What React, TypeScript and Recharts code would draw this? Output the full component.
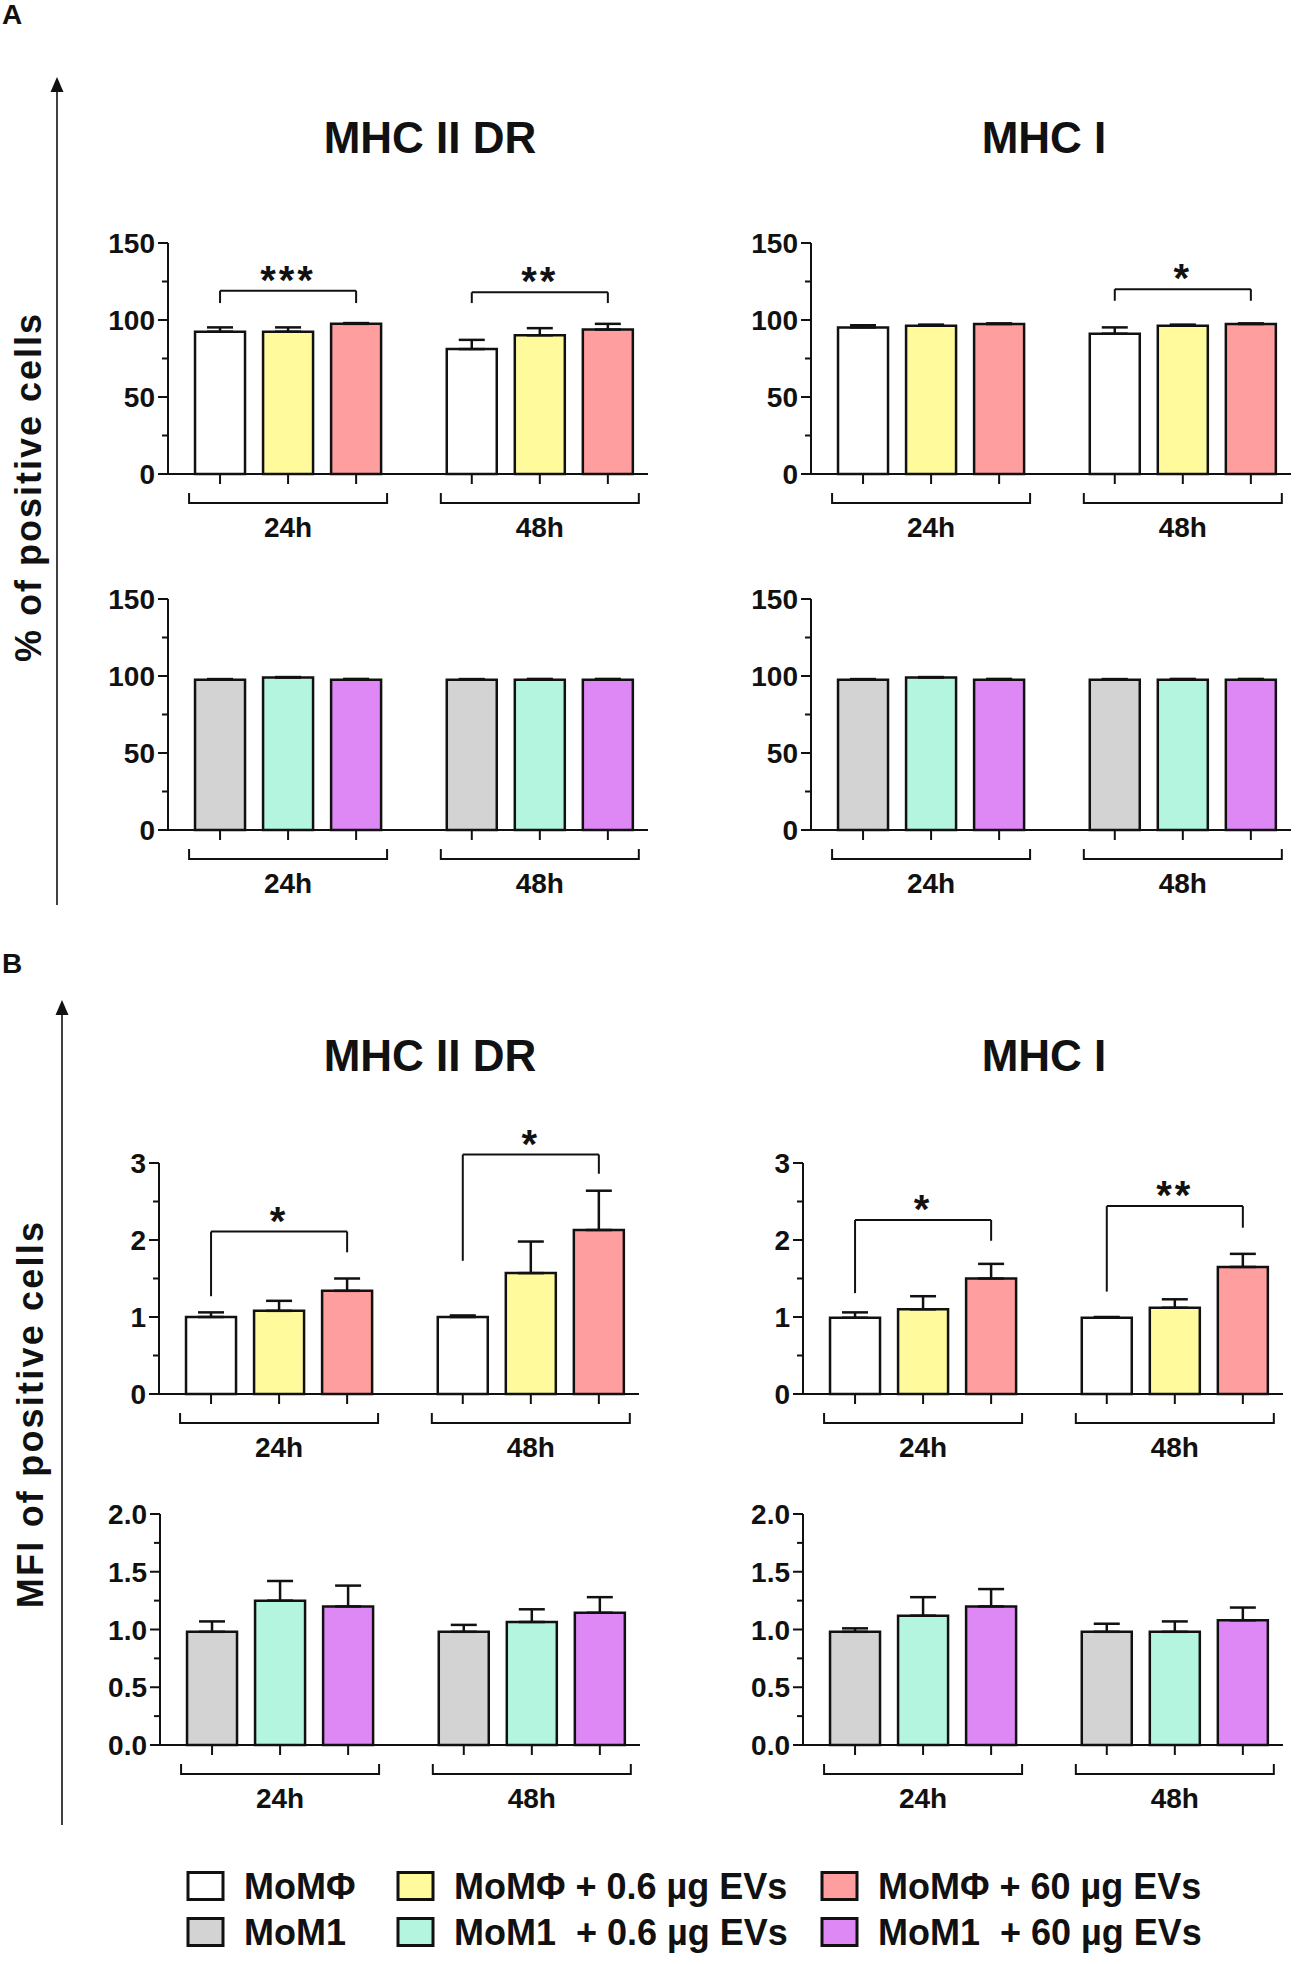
import React from 'react';
import { BarChart, Bar, XAxis, YAxis, ErrorBar, Cell, ReferenceLine, ReferenceDot } from 'recharts';

// conditions, 24h first then 48h
const timePoints = ['24h', '48h'];
const mphLegend = ['MoMΦ', 'MoMΦ + 0.6 µg EVs', 'MoMΦ + 60 µg EVs'];
const m1Legend = ['MoM1', 'MoM1  + 0.6 µg EVs', 'MoM1  + 60 µg EVs'];
const mphColors = ['#ffffff', '#fffb9c', '#ff9e9e'];
const m1Colors = ['#d3d3d3', '#b3f5de', '#dd88f5'];

const pctTicks = [0, 25, 50, 75, 100, 125, 150];
const pctLabels = [0, 50, 100, 150];
const mfiTopTicks = [0, 0.5, 1, 1.5, 2, 2.5, 3];
const mfiTopLabels = [0, 1, 2, 3];
const mfiBottomTicks = [0, 0.25, 0.5, 0.75, 1, 1.25, 1.5, 1.75, 2];
const mfiBottomLabels = [0, 0.5, 1, 1.5, 2];

// A: % of positive cells
const pctDrMph = [92.4, 92.4, 97.5, 81.1, 90.1, 93.8];
const pctDrMphErr = [2.8, 2.8, 0.5, 6.0, 4.6, 3.7];
const pctIMph = [95.2, 96.3, 97.4, 91.1, 96.3, 97.4];
const pctIMphErr = [1.4, 0.7, 0.4, 4.1, 0.7, 0.4];
const pctDrM1 = [97.6, 99.0, 97.6, 97.6, 97.6, 97.6];
const pctDrM1Err = [0.4, 0.3, 0.5, 0.4, 0.5, 0.5];
const pctIM1 = [97.6, 99.0, 97.6, 97.6, 97.6, 97.6];
const pctIM1Err = [0.4, 0.3, 0.5, 0.4, 0.5, 0.5];

// B: MFI of positive cells
const mfiDrMph = [1.0, 1.08, 1.34, 1.0, 1.57, 2.13];
const mfiDrMphErr = [0.06, 0.13, 0.16, 0.02, 0.41, 0.51];
const mfiIMph = [0.99, 1.1, 1.5, 0.99, 1.12, 1.65];
const mfiIMphErr = [0.07, 0.17, 0.19, 0.01, 0.11, 0.17];
const mfiDrM1 = [0.98, 1.25, 1.2, 0.98, 1.065, 1.145];
const mfiDrM1Err = [0.09, 0.17, 0.18, 0.06, 0.11, 0.135];
const mfiIM1 = [0.98, 1.12, 1.2, 0.98, 0.98, 1.08];
const mfiIM1Err = [0.03, 0.16, 0.15, 0.07, 0.09, 0.11];

// significance brackets: bar indices, bracket height, leg ends
const sigPctDr = [
  { from: 0, to: 2, top: 119, leftLow: 111, rightLow: 111, label: '***' },
  { from: 3, to: 5, top: 118, leftLow: 111, rightLow: 111, label: '**' },
];
const sigPctI = [{ from: 3, to: 5, top: 120, leftLow: 112.5, rightLow: 112.5, label: '*' }];
const sigMfiDr = [
  { from: 0, to: 2, top: 2.11, leftLow: 1.27, rightLow: 1.84, label: '*' },
  { from: 3, to: 5, top: 3.11, leftLow: 1.73, rightLow: 2.86, label: '*' },
];
const sigMfiI = [
  { from: 0, to: 2, top: 2.26, leftLow: 1.31, rightLow: 1.99, label: '*' },
  { from: 3, to: 5, top: 2.44, leftLow: 1.33, rightLow: 2.16, label: '**' },
];

const INK = '#111';
const FONT = '"Liberation Sans", Arial, sans-serif';
const GROUP_STEP = 3.7;
const X_MIN = -0.765;
const X_MAX = 6.29;
const PLOT_W = 480;
const PLOT_H = 231;
const Y_AXIS_W = 80;
const X_AXIS_H = 80;
const M_TOP = 60;
const M_RIGHT = 10;

const posOf = (i: number) => Math.floor(i / 3) * GROUP_STEP + (i % 3);

const YTick = (props: any) => {
  const { x, y, payload, labels, fmt } = props;
  const major = labels.includes(payload.value);
  return (
    <g>
      <line x1={x - (major ? 10 : 6)} x2={x} y1={y} y2={y} stroke={INK} strokeWidth={2} />
      {major && (
        <text x={x - 13} y={y} dy={10} textAnchor="end" fontSize={28} fontWeight="bold" fontFamily={FONT} fill={INK}>
          {fmt(payload.value)}
        </text>
      )}
    </g>
  );
};

const XTick = (props: any) => {
  const { x, y, payload } = props;
  const g = payload.value > GROUP_STEP - 0.5 ? 1 : 0;
  const k = Math.round(payload.value - g * GROUP_STEP);
  return (
    <g>
      <line x1={x} x2={x} y1={y} y2={y + 10} stroke={INK} strokeWidth={2} />
      {k === 1 && (
        <>
          <path d={`M${x - 99},${y + 19} V${y + 29} H${x + 99} V${y + 19}`} fill="none" stroke={INK} strokeWidth={2} />
          <text x={x} y={y + 63} textAnchor="middle" fontSize={28} fontWeight="bold" fontFamily={FONT} fill={INK}>
            {timePoints[g]}
          </text>
        </>
      )}
    </g>
  );
};

type Sig = { from: number; to: number; top: number; leftLow: number; rightLow: number; label: string };

function Panel(props: {
  left: number;
  top: number;
  values: number[];
  errors: number[];
  colors: string[];
  domain: [number, number];
  ticks: number[];
  labels: number[];
  fmt: (v: number) => string;
  sigs?: Sig[];
}) {
  const { left, top, values, errors, colors, domain, ticks, labels, fmt, sigs = [] } = props;
  const rows = values.map((v, i) => ({ pos: posOf(i), value: v, err: [0, errors[i]], color: colors[i % 3] }));
  const lineProps = { stroke: INK, strokeWidth: 2, ifOverflow: 'visible' as const };
  return (
    <div style={{ position: 'absolute', left: left - Y_AXIS_W, top: top - M_TOP }}>
      <BarChart
        width={Y_AXIS_W + PLOT_W + M_RIGHT}
        height={M_TOP + PLOT_H + X_AXIS_H}
        data={rows}
        margin={{ top: M_TOP, right: M_RIGHT, left: 0, bottom: 0 }}
      >
        <XAxis
          dataKey="pos"
          type="number"
          domain={[X_MIN, X_MAX]}
          ticks={rows.map((r) => r.pos)}
          interval={0}
          height={X_AXIS_H}
          tickLine={false}
          tickSize={0}
          tickMargin={0}
          axisLine={{ stroke: INK, strokeWidth: 2 }}
          tick={(p: any) => <XTick {...p} />}
        />
        <YAxis
          type="number"
          domain={domain}
          ticks={ticks}
          interval={0}
          width={Y_AXIS_W}
          tickLine={false}
          tickSize={0}
          tickMargin={0}
          axisLine={{ stroke: INK, strokeWidth: 2 }}
          tick={(p: any) => <YTick {...p} labels={labels} fmt={fmt} />}
        />
        <Bar dataKey="value" barSize={50} stroke={INK} strokeWidth={2.5} isAnimationActive={false}>
          {rows.map((r, i) => (
            <Cell key={i} fill={r.color} />
          ))}
          <ErrorBar dataKey="err" width={13} stroke={INK} strokeWidth={2.5} isAnimationActive={false} />
        </Bar>
        {sigs.map((s, i) => {
          const x1 = posOf(s.from);
          const x2 = posOf(s.to);
          return [
            <ReferenceLine key={`l${i}`} segment={[{ x: x1, y: s.leftLow }, { x: x1, y: s.top }]} {...lineProps} />,
            <ReferenceLine key={`t${i}`} segment={[{ x: x1, y: s.top }, { x: x2, y: s.top }]} {...lineProps} />,
            <ReferenceLine key={`r${i}`} segment={[{ x: x2, y: s.top }, { x: x2, y: s.rightLow }]} {...lineProps} />,
            <ReferenceDot
              key={`s${i}`}
              x={(x1 + x2) / 2}
              y={s.top}
              r={0}
              ifOverflow="visible"
              shape={(p: any) => (
                <text x={p.cx} y={p.cy + 3} textAnchor="middle" fontSize={40} fontWeight="bold" fontFamily={FONT} letterSpacing={3} fill={INK}>
                  {s.label}
                </text>
              )}
            />,
          ];
        })}
      </BarChart>
    </div>
  );
}

const fmtInt = (v: number) => String(v);
const fmtOne = (v: number) => v.toFixed(1);

const legendCols = [188, 398, 822];
const legendRows = [1886, 1932];

export default function App() {
  const txt = { fontFamily: FONT, fontWeight: 'bold' as const, fill: INK };
  return (
    <div style={{ position: 'relative', width: 1299, height: 1965, background: '#fff', overflow: 'hidden' }}>
      <style>{'body{margin:0}'}</style>
      <svg width={1299} height={1965} style={{ position: 'absolute', left: 0, top: 0 }}>
        <text x={2} y={24} fontSize={28} {...txt}>A</text>
        <text x={2} y={973} fontSize={28} {...txt}>B</text>

        <line x1={57} x2={57} y1={88} y2={905} stroke={INK} strokeWidth={1.6} />
        <polygon points="57,77 50.5,92 63.5,92" fill={INK} />
        <line x1={62} x2={62} y1={1011} y2={1825} stroke={INK} strokeWidth={1.6} />
        <polygon points="62,1000 55.5,1015 68.5,1015" fill={INK} />

        <text transform="translate(28,487) rotate(-90)" textAnchor="middle" dominantBaseline="central" fontSize={36} letterSpacing={2} {...txt}>
          % of positive cells
        </text>
        <text transform="translate(30,1414) rotate(-90)" textAnchor="middle" dominantBaseline="central" fontSize={36} letterSpacing={2.2} {...txt}>
          MFI of positive cells
        </text>

        <text x={430} y={137} textAnchor="middle" dominantBaseline="central" fontSize={44} {...txt}>MHC II DR</text>
        <text x={1044} y={137} textAnchor="middle" dominantBaseline="central" fontSize={44} {...txt}>MHC I</text>
        <text x={430} y={1055} textAnchor="middle" dominantBaseline="central" fontSize={44} {...txt}>MHC II DR</text>
        <text x={1044} y={1055} textAnchor="middle" dominantBaseline="central" fontSize={44} {...txt}>MHC I</text>

        {[mphLegend, m1Legend].map((names, r) =>
          names.map((name, c) => {
            const fill = (r === 0 ? mphColors : m1Colors)[c];
            return (
              <g key={`${r}-${c}`}>
                <rect x={legendCols[c]} y={legendRows[r] - 13.5} width={35} height={27} fill={fill} stroke={INK} strokeWidth={3} />
                <text x={legendCols[c] + 56} y={legendRows[r] + 13} fontSize={36} {...txt} style={{ whiteSpace: 'pre' }}>
                  {name}
                </text>
              </g>
            );
          })
        )}
      </svg>

      <Panel left={168} top={243} values={pctDrMph} errors={pctDrMphErr} colors={mphColors} domain={[0, 150]} ticks={pctTicks} labels={pctLabels} fmt={fmtInt} sigs={sigPctDr} />
      <Panel left={811} top={243} values={pctIMph} errors={pctIMphErr} colors={mphColors} domain={[0, 150]} ticks={pctTicks} labels={pctLabels} fmt={fmtInt} sigs={sigPctI} />
      <Panel left={168} top={599} values={pctDrM1} errors={pctDrM1Err} colors={m1Colors} domain={[0, 150]} ticks={pctTicks} labels={pctLabels} fmt={fmtInt} />
      <Panel left={811} top={599} values={pctIM1} errors={pctIM1Err} colors={m1Colors} domain={[0, 150]} ticks={pctTicks} labels={pctLabels} fmt={fmtInt} />

      <Panel left={159} top={1163} values={mfiDrMph} errors={mfiDrMphErr} colors={mphColors} domain={[0, 3]} ticks={mfiTopTicks} labels={mfiTopLabels} fmt={fmtInt} sigs={sigMfiDr} />
      <Panel left={803} top={1163} values={mfiIMph} errors={mfiIMphErr} colors={mphColors} domain={[0, 3]} ticks={mfiTopTicks} labels={mfiTopLabels} fmt={fmtInt} sigs={sigMfiI} />
      <Panel left={160} top={1514} values={mfiDrM1} errors={mfiDrM1Err} colors={m1Colors} domain={[0, 2]} ticks={mfiBottomTicks} labels={mfiBottomLabels} fmt={fmtOne} />
      <Panel left={803} top={1514} values={mfiIM1} errors={mfiIM1Err} colors={m1Colors} domain={[0, 2]} ticks={mfiBottomTicks} labels={mfiBottomLabels} fmt={fmtOne} />
    </div>
  );
}
